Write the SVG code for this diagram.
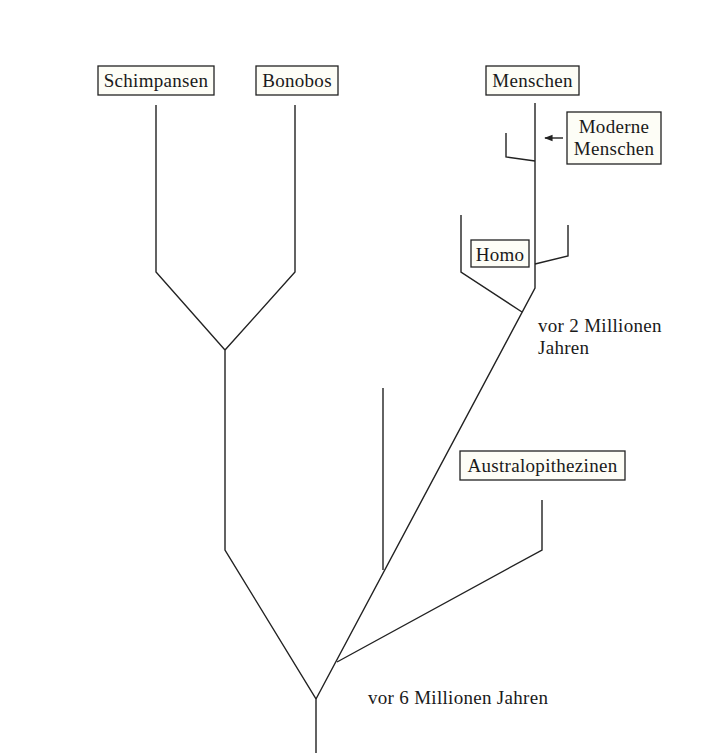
<svg xmlns="http://www.w3.org/2000/svg" width="726" height="753" viewBox="0 0 726 753">
<style>
  .box { fill: #fdfdf6; stroke: #222; stroke-width: 1.3; }
  .lbl { font-family: "Liberation Serif", "DejaVu Serif", serif; font-size: 19px; letter-spacing: 0.3px; fill: #1a1a1a; }
  .ln { fill: none; stroke: #222; stroke-width: 1.4; stroke-linejoin: miter; }
</style>
<defs>
  <marker id="ah" viewBox="0 0 10 10" refX="9" refY="5" markerWidth="6" markerHeight="6" orient="auto-start-reverse">
    <path d="M0,1 L10,5 L0,9 Z" fill="#222"/>
  </marker>
</defs>
<rect width="726" height="753" fill="#ffffff"/>

<g id="connectors">
  <polyline class="ln" points="156,105 156,272 225,350 225,550 316,699 316,753"/>
  <polyline class="ln" points="295,105 295,272 225,350"/>
  <polyline class="ln" points="535,103 535,288 316,699"/>
  <polyline class="ln" points="383,388 383,570"/>
  <polyline class="ln" points="542,500 542,550 337,662"/>
  <polyline class="ln" points="461,215 461,272 522,312"/>
  <polyline class="ln" points="568,225 568,256 535,264"/>
  <polyline class="ln" points="506,133 506,157 535,161"/>
  <line class="ln" x1="563" y1="138" x2="545" y2="138" marker-end="url(#ah)"/>
</g>

<g id="schimpansen">
  <rect class="box" x="98" y="66" width="116" height="29"/>
  <text class="lbl" x="156" y="87" text-anchor="middle">Schimpansen</text>
</g>
<g id="bonobos">
  <rect class="box" x="256" y="66" width="82" height="29"/>
  <text class="lbl" x="297" y="87" text-anchor="middle">Bonobos</text>
</g>
<g id="menschen">
  <rect class="box" x="486" y="66" width="93" height="29"/>
  <text class="lbl" x="532.5" y="87" text-anchor="middle">Menschen</text>
</g>
<g id="moderne-menschen">
  <rect class="box" x="567" y="112" width="94" height="52"/>
  <text class="lbl" x="614" y="133" text-anchor="middle">Moderne</text>
  <text class="lbl" x="614" y="155" text-anchor="middle">Menschen</text>
</g>
<g id="homo">
  <rect class="box" x="471" y="240" width="58" height="27"/>
  <text class="lbl" x="500" y="261" text-anchor="middle">Homo</text>
</g>
<g id="australopithezinen">
  <rect class="box" x="460" y="451" width="165" height="29"/>
  <text class="lbl" x="542.5" y="472" text-anchor="middle">Australopithezinen</text>
</g>
<g id="vor-2-mio">
  <text class="lbl" x="538" y="332">vor 2 Millionen</text>
  <text class="lbl" x="538" y="354">Jahren</text>
</g>
<g id="vor-6-mio">
  <text class="lbl" x="368" y="704">vor 6 Millionen Jahren</text>
</g>
</svg>
